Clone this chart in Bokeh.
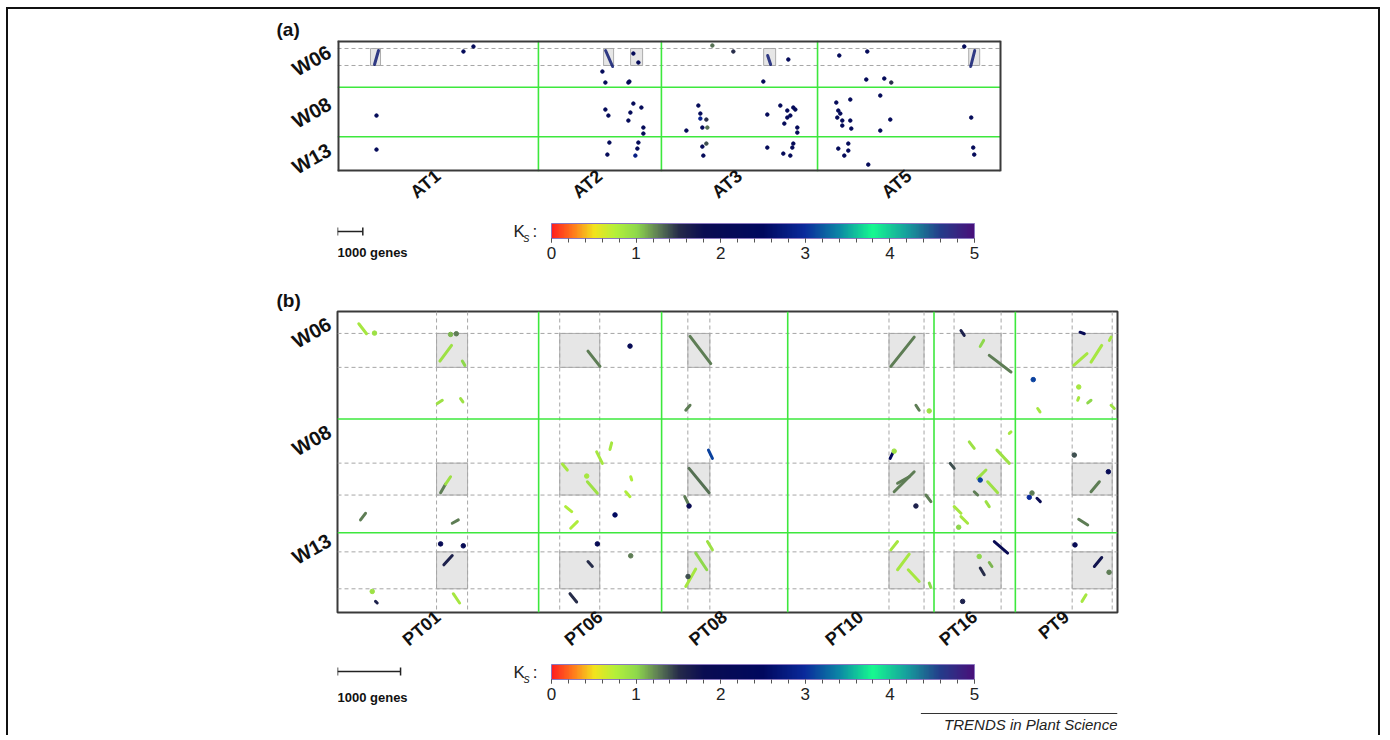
import numpy as np
from bokeh.plotting import figure
from bokeh.models import (Range1d, FixedTicker, ColumnDataSource, LinearColorMapper,
                          ColorBar, Label)
from bokeh.layouts import column
from bokeh.embed import file_html
from bokeh.resources import INLINE

FONT = "Liberation Sans"

# ---------------- data ----------------
W_names = ["W06", "W08", "W13"]
W_len = [1710, 1810, 1270]
AT_names = ["AT1", "AT2", "AT3", "AT5"]
AT_len = [7940, 4860, 6170, 7230]
PT_names = ["PT01", "PT06", "PT08", "PT10", "PT16", "PT9"]
PT_len = [3190, 1950, 2000, 2320, 1290, 1620]
SCALE_GENES = 1000
KS_TICKS = [0, 1, 2, 3, 4, 5]

# y label tick positions (genes)
W_tick_a = [366, 2267, 3948]
W_tick_b = [175, 1889, 3618]

# regions of interest, panel (a)
a_roi_y = [292, 914]
a_roi_x0 = [1304, 10515, 11582, 16840, 24943]
a_roi_x1 = [1700, 10910, 12057, 17314, 25378]
# regions of interest, panel (b)
b_roi_y0 = [349, 2413, 3825]
b_roi_y1 = [889, 2921, 4413]
b_roi_x0 = [1571, 3524, 5556, 8746, 9778, 11651]
b_roi_x1 = [2063, 4159, 5905, 9302, 10524, 12286]

# panel (a) syntenic blocks
a_seg_x0 = [1621, 10594, 16998, 25181]
a_seg_y0 = [366, 366, 548, 366]
a_seg_x1 = [1463, 10871, 17116, 25022]
a_seg_y1 = [877, 951, 877, 951]
a_seg_ks = [2.6, 2.6, 2.6, 2.6]

a_dot_x = [4977, 5372, 10468, 10586, 11495, 1541, 1541, 10586, 10705, 11692,
           11890, 11534, 11692, 11574, 11495, 12008, 12087, 12087, 11890, 11850,
           11771, 10744, 10665, 14813, 15642, 17815, 16827, 14260, 14339, 14339,
           14576, 14418, 14615, 13786, 16985, 17499, 17775, 17775, 17894, 18012,
           18091, 17657, 18170, 18170, 14418, 14576, 14457, 16985, 17617, 17894,
           17973, 18012, 19829, 20935, 24767, 20896, 21607, 21883, 19711, 19790,
           19869, 19750, 19948, 20264, 21449, 20264, 19948, 20303, 21844, 21449,
           25043, 19790, 20185, 20185, 20027, 20975, 25122, 25162]
a_dot_y = [403, 220, 1135, 1537, 1537, 2745, 3989, 2525, 2745, 476,
           805, 1501, 2306, 2635, 2928, 2452, 3184, 3404, 3733, 3953,
           4209, 3733, 4172, 183, 403, 695, 1501, 2379, 2672, 2855,
           2891, 3184, 3184, 3294, 2708, 2379, 2562, 2818, 2745, 2452,
           2525, 3038, 3184, 3367, 3880, 3770, 4209, 3916, 4136, 4209,
           3916, 3770, 549, 403, 220, 1427, 1391, 1537, 2269, 2562,
           2672, 2818, 2928, 2159, 2013, 2928, 3111, 3221, 2891, 3294,
           2818, 3953, 3770, 4026, 4209, 4538, 3916, 4172]
a_dot_ks = [2.2, 2.2, 2.2, 2.2, 2.2, 2.2, 2.2, 2.2, 2.2, 2.2,
            2.2, 2.2, 2.2, 2.2, 2.2, 2.2, 2.2, 2.2, 2.2, 2.2,
            2.8, 2.2, 2.2, 1.3, 1.5, 2.2, 2.2, 2.2, 2.2, 2.9,
            1.5, 2.2, 1.3, 2.2, 2.2, 2.2, 2.2, 2.2, 2.2, 2.2,
            2.2, 2.2, 2.2, 2.2, 2.2, 1.4, 2.2, 2.2, 2.2, 2.2,
            2.2, 2.2, 2.2, 2.2, 2.2, 2.2, 2.2, 1.5, 2.2, 2.2,
            2.2, 2.2, 2.2, 2.2, 2.2, 2.2, 2.2, 2.2, 2.2, 2.2,
            2.2, 2.2, 2.2, 2.2, 2.2, 2.2, 2.2, 2.2]

# panel (b) syntenic blocks
b_seg_x0 = [338, 1624, 1979, 1582, 1952, 1635, 1714, 365, 1820, 1687,
            603, 1836, 3972, 5591, 5523, 4348, 4110, 3566, 3963, 4650,
            4571, 3618, 3698, 5883, 5575, 5507, 3972, 3687, 5867, 5681,
            5523, 8776, 9173, 9887, 10193, 10336, 11776, 11676, 11950, 12241,
            11739, 11898, 12268, 11104, 8765, 8828, 8882, 9332, 8776, 8882,
            9051, 9384, 10019, 10654, 10458, 9717, 10152, 10311, 10098, 10284,
            9781, 9887, 11950, 11093, 11755, 10416, 10193, 10336, 12003, 11807]
b_seg_y0 = [195, 789, 789, 1465, 1385, 2884, 2746, 3317, 3369, 4031,
            4613, 4491, 630, 397, 1571, 2090, 2233, 2428, 2709, 2630,
            2868, 3106, 3449, 2206, 2496, 2947, 3979, 4491, 3661, 3845,
            4375, 873, 1492, 302, 555, 698, 329, 857, 805, 460,
            1412, 1455, 1492, 1544, 2338, 2868, 2734, 2920, 3793, 4110,
            4110, 4321, 2074, 1941, 2206, 2417, 2655, 2709, 2868, 3026,
            3106, 3264, 2868, 2972, 3306, 3661, 4083, 3994, 4058, 4613]
b_seg_x1 = [460, 1809, 2020, 1662, 1989, 1714, 1793, 444, 1916, 1820,
            630, 1936, 4163, 5920, 5591, 4321, 4201, 3645, 4121, 4666,
            4639, 3714, 3804, 5946, 5893, 5559, 4042, 3793, 5946, 5856,
            5681, 9146, 9225, 9939, 10247, 10681, 11844, 11887, 12120, 12268,
            11755, 11950, 12320, 11141, 8803, 9146, 9067, 9411, 8882, 9067,
            9225, 9411, 10098, 10681, 10654, 9781, 10284, 10469, 10152, 10336,
            9887, 9993, 12082, 11146, 11898, 10628, 10257, 10379, 12120, 11871]
b_seg_y1 = [354, 540, 857, 1412, 1439, 2746, 2630, 3211, 3317, 3883,
            4639, 4639, 873, 830, 1492, 2195, 2417, 2523, 2893, 2682,
            2947, 3185, 3344, 2338, 2884, 3052, 4058, 4623, 3793, 4110,
            4099, 408, 1571, 381, 460, 963, 354, 671, 540, 408,
            1370, 1412, 1544, 1598, 2258, 2550, 2630, 3026, 3661, 3861,
            4296, 4391, 2179, 1916, 2417, 2496, 2523, 2884, 2920, 3106,
            3211, 3369, 2709, 3026, 3396, 3845, 4190, 4058, 3915, 4507]
b_seg_ks = [0.85, 0.9, 1.0, 0.9, 0.9, 1.25, 0.9, 1.25, 1.25, 1.6,
            1.6, 0.85, 1.25, 1.25, 1.25, 0.85, 0.85, 0.85, 0.9, 0.8,
            0.8, 0.8, 0.8, 3.1, 1.3, 1.25, 1.5, 1.5, 0.9, 1.0,
            0.85, 1.25, 1.25, 1.6, 1.0, 1.25, 2.0, 0.85, 0.85, 0.85,
            0.85, 1.0, 0.9, 0.85, 2.3, 1.25, 1.25, 1.25, 0.85, 0.85,
            0.85, 1.0, 0.9, 0.85, 0.9, 1.4, 0.9, 0.9, 1.25, 0.9,
            0.85, 0.85, 1.25, 1.8, 1.25, 1.9, 1.5, 1.1, 1.7, 0.85]

b_dot_x = [587, 1793, 1884, 1635, 1995, 551, 4639, 3952, 4401, 5575,
           4121, 4650, 5559, 9384, 11034, 11755, 8828, 9173, 10193, 9851,
           11685, 12225, 10971, 11014, 10177, 9914, 11696, 12236]
b_dot_y = [344, 365, 354, 3698, 3729, 4455, 551, 2619, 3237, 3095,
           3698, 3888, 4217, 1582, 1084, 1201, 2222, 3095, 2682, 3433,
           2285, 2550, 2957, 2888, 3899, 4613, 3714, 4150]
b_dot_ks = [0.9, 1.1, 1.25, 2.0, 2.0, 0.9, 2.0, 0.85, 2.5, 1.8,
            2.0, 1.25, 1.4, 0.9, 3.1, 0.85, 0.9, 1.6, 3.1, 1.0,
            1.4, 2.0, 3.0, 1.25, 1.0, 1.6, 2.0, 1.25]

# ---------------- colour scale ----------------
KS_STOPS = [(0.0, "#ff1f1f"), (0.25, "#ff7a1c"), (0.5, "#f2e41e"), (0.75, "#b4f03a"),
            (1.0, "#8ed84c"), (1.25, "#5f7f55"), (1.5, "#252a4a"), (1.8, "#0a0c52"),
            (2.5, "#00085e"), (3.0, "#0a2a9c"), (3.4, "#0c86a6"), (3.8, "#16fa90"),
            (4.2, "#16a09e"), (4.6, "#243c8a"), (5.0, "#48107a")]


def build_palette(n=256):
    out = []
    for i in range(n):
        v = 5.0 * i / (n - 1)
        j = 0
        while j < len(KS_STOPS) - 2 and v > KS_STOPS[j + 1][0]:
            j += 1
        v0, c0 = KS_STOPS[j]
        v1, c1 = KS_STOPS[j + 1]
        t = min(max((v - v0) / (v1 - v0), 0.0), 1.0)
        a = [int(c0[k:k + 2], 16) for k in (1, 3, 5)]
        b = [int(c1[k:k + 2], 16) for k in (1, 3, 5)]
        out.append("#%02x%02x%02x" % tuple(int(round(a[m] + (b[m] - a[m]) * t)) for m in range(3)))
    return out


mapper = LinearColorMapper(palette=build_palette(), low=0, high=5)

GREEN = "#3de83d"
DASH = "#a6a6a6"
BOXFILL = "#e6e6e6"
BOXLINE = "#adadad"
FRAME = "#3a3a3a"
FULLW = 1370
LEFT = 329          # px left of every frame
FRAME_W = 780       # common frame width (px)
RIGHT = FULLW - LEFT - FRAME_W
A_W = 663           # drawn width of panel (a) box (px)


def style_axes(p):
    p.xgrid.visible = False
    p.ygrid.visible = False
    for ax in p.axis:
        ax.axis_line_color = None
        ax.major_tick_line_color = None
        ax.minor_tick_line_color = None
        ax.major_tick_out = 0
        ax.major_tick_in = 0
        ax.minor_tick_out = 0
        ax.minor_tick_in = 0
        ax.major_label_text_font = FONT
        ax.major_label_text_font_style = "bold"
        ax.major_label_text_color = "#111111"
    p.xaxis.major_label_text_font_size = "18px"
    p.yaxis.major_label_text_font_size = "20px"
    p.xaxis.major_label_standoff = 2
    p.yaxis.major_label_standoff = 8


def dotplot(xnames, xlen, x_end, ticks_y, height, mb_top, mb_bottom, title):
    xedges = np.concatenate([[0], np.cumsum(xlen)]).astype(int)
    wedges = np.concatenate([[0], np.cumsum(W_len)]).astype(int)
    xr = Range1d(0, x_end)
    yr = Range1d(int(wedges[-1]), 0)
    p = figure(width=FULLW, height=height, x_range=xr, y_range=yr,
               output_backend="svg", toolbar_location=None, title=title,
               min_border_left=LEFT, min_border_right=RIGHT,
               min_border_top=mb_top, min_border_bottom=mb_bottom,
               background_fill_color="white", border_fill_color="white")
    p.title.align = "left"
    p.title.offset = -61
    p.title.text_font = FONT
    p.title.text_font_size = "19px"
    p.title.text_font_style = "bold"
    p.title.text_color = "#111111"
    p.title.standoff = 2
    xcent = [int(round((xedges[i] + xedges[i + 1]) / 2)) for i in range(len(xnames))]
    p.xaxis.ticker = FixedTicker(ticks=xcent)
    p.xaxis.major_label_overrides = {c: n for c, n in zip(xcent, xnames)}
    p.xaxis.major_label_orientation = 0.7
    p.yaxis.ticker = FixedTicker(ticks=ticks_y)
    p.yaxis.major_label_overrides = {c: n for c, n in zip(ticks_y, W_names)}
    p.yaxis.major_label_orientation = 0.52
    style_axes(p)
    return p, xedges, wedges, xr


# ---------------- panel (a) ----------------
xa_tot = int(sum(AT_len))
w_tot = int(sum(W_len))
pa, at_edges, w_edges, xr_a = dotplot(AT_names, AT_len, xa_tot * FRAME_W / A_W, W_tick_a,
                                      210, 31, 48, "(a)")
pa.outline_line_color = None
pa.quad(left=a_roi_x0, right=a_roi_x1, top=[a_roi_y[0]] * len(a_roi_x0),
        bottom=[a_roi_y[1]] * len(a_roi_x0), fill_color=BOXFILL, line_color=BOXLINE, line_width=1)
pa.segment(x0=[0] * 2, x1=[xa_tot] * 2, y0=a_roi_y, y1=a_roi_y,
           line_color=DASH, line_width=1, line_dash="4 3")
pa.segment(x0=list(at_edges[1:-1]), x1=list(at_edges[1:-1]), y0=[0] * 3, y1=[w_tot] * 3,
           line_color=GREEN, line_width=1.6)
pa.segment(x0=[0] * 2, x1=[xa_tot] * 2, y0=list(w_edges[1:-1]), y1=list(w_edges[1:-1]),
           line_color=GREEN, line_width=1.6)
# panel (a) frame box (left/top/bottom half-clipped at the frame edge)
pa.segment(x0=[0, 0, 0], x1=[0, xa_tot, xa_tot], y0=[0, 0, w_tot], y1=[w_tot, 0, w_tot],
           line_color=FRAME, line_width=4)
pa.segment(x0=[xa_tot], x1=[xa_tot], y0=[0], y1=[w_tot], line_color=FRAME, line_width=2)
src_as = ColumnDataSource(dict(x0=a_seg_x0, y0=a_seg_y0, x1=a_seg_x1, y1=a_seg_y1, ks=a_seg_ks))
pa.segment("x0", "y0", "x1", "y1", source=src_as, line_color=dict(field="ks", transform=mapper),
           line_width=3, line_cap="round", line_alpha=0.8)
src_ad = ColumnDataSource(dict(x=a_dot_x, y=a_dot_y, ks=a_dot_ks))
pa.scatter("x", "y", source=src_ad, size=3.5, fill_color=dict(field="ks", transform=mapper),
           line_color=dict(field="ks", transform=mapper))


def strip(xr, height):
    s = figure(width=FULLW, height=height, x_range=xr, y_range=Range1d(0, height),
               output_backend="svg", toolbar_location=None, x_axis_type=None, y_axis_type=None,
               min_border_left=LEFT, min_border_right=RIGHT, min_border_top=0, min_border_bottom=0,
               outline_line_color=None, background_fill_color="white", border_fill_color="white")
    s.xgrid.visible = False
    s.ygrid.visible = False
    return s


def add_colorbar(s, y_loc):
    cb = ColorBar(color_mapper=mapper, orientation="horizontal", width=423, height=15,
                  location=(214, y_loc), padding=0, margin=0,
                  ticker=FixedTicker(ticks=KS_TICKS, minor_ticks=[i * 0.2 for i in range(26)]),
                  major_label_text_font=FONT, major_label_text_font_size="17px",
                  major_label_text_color="#222222",
                  major_tick_in=0, major_tick_out=4, minor_tick_in=0, minor_tick_out=4,
                  major_tick_line_color="#555555", minor_tick_line_color="#555555",
                  bar_line_color="#8a78c0", bar_line_width=1, label_standoff=4,
                  background_fill_alpha=0, border_line_color=None)
    s.add_layout(cb)


def add_ks_label(s, xk, xs, xc, yk):
    s.add_layout(Label(x=xk, y=yk, text="K", text_font=FONT, text_font_size="17px",
                       text_baseline="middle", text_color="#222222"))
    s.add_layout(Label(x=xs, y=yk - 6, text="s", text_font=FONT, text_font_size="12px",
                       text_font_style="italic", text_baseline="middle", text_color="#222222"))
    s.add_layout(Label(x=xc, y=yk, text=":", text_font=FONT, text_font_size="17px",
                       text_baseline="middle", text_color="#222222"))


# strip (a)
sa = strip(xr_a, 46)
sa.segment(x0=[0, 0, SCALE_GENES], x1=[SCALE_GENES, 0, SCALE_GENES], y0=[34, 30, 30], y1=[34, 38, 38],
           line_color="#222222", line_width=1.5)
sa.add_layout(Label(x=0, y=13, text="1000 genes", text_font=FONT, text_font_size="13px",
                    text_font_style="bold", text_baseline="middle", text_color="#111111"))
add_colorbar(sa, 4)
add_ks_label(sa, 6957, 7353, 7709, 34)

# ---------------- panel (b) ----------------
xb_tot = int(sum(PT_len))
pb, pt_edges, _, xr_b = dotplot(PT_names, PT_len, xb_tot, W_tick_b, 395, 46, 47, "(b)")
pb.outline_line_color = FRAME
pb.outline_line_width = 2
qx0, qx1, qy0, qy1 = [], [], [], []
for i in range(len(b_roi_x0)):
    for j in range(len(b_roi_y0)):
        qx0.append(b_roi_x0[i]); qx1.append(b_roi_x1[i])
        qy0.append(b_roi_y0[j]); qy1.append(b_roi_y1[j])
pb.quad(left=qx0, right=qx1, top=qy0, bottom=qy1, fill_color=BOXFILL, line_color=BOXLINE, line_width=1)
hy = b_roi_y0 + b_roi_y1
pb.segment(x0=[0] * len(hy), x1=[xb_tot] * len(hy), y0=hy, y1=hy,
           line_color=DASH, line_width=1, line_dash="4 3")
vx = b_roi_x0 + b_roi_x1
pb.segment(x0=vx, x1=vx, y0=[0] * len(vx), y1=[w_tot] * len(vx),
           line_color=DASH, line_width=1, line_dash="4 3")
pb.segment(x0=list(pt_edges[1:-1]), x1=list(pt_edges[1:-1]), y0=[0] * 5, y1=[w_tot] * 5,
           line_color=GREEN, line_width=1.6)
pb.segment(x0=[0] * 2, x1=[xb_tot] * 2, y0=list(w_edges[1:-1]), y1=list(w_edges[1:-1]),
           line_color=GREEN, line_width=1.6)
src_bs = ColumnDataSource(dict(x0=b_seg_x0, y0=b_seg_y0, x1=b_seg_x1, y1=b_seg_y1, ks=b_seg_ks))
pb.segment("x0", "y0", "x1", "y1", source=src_bs, line_color=dict(field="ks", transform=mapper),
           line_width=3, line_cap="round")
src_bd = ColumnDataSource(dict(x=b_dot_x, y=b_dot_y, ks=b_dot_ks))
pb.scatter("x", "y", source=src_bd, size=4.5, fill_color=dict(field="ks", transform=mapper),
           line_color=dict(field="ks", transform=mapper))

# strip (b)
sb = strip(xr_b, 75)
sb.segment(x0=[0, 0, SCALE_GENES], x1=[SCALE_GENES, 0, SCALE_GENES], y0=[64, 60, 60], y1=[64, 68, 68],
           line_color="#222222", line_width=1.5)
sb.add_layout(Label(x=0, y=38, text="1000 genes", text_font=FONT, text_font_size="13px",
                    text_font_style="bold", text_baseline="middle", text_color="#111111"))
add_colorbar(sb, 33)
add_ks_label(sb, 2793, 2952, 3095, 63)
sb.segment(x0=[9252], x1=[xb_tot], y0=[22], y1=[22], line_color="#333333", line_width=1)
sb.add_layout(Label(x=xb_tot, y=11, text="TRENDS in Plant Science", text_font=FONT,
                    text_font_size="15px", text_font_style="italic", text_align="right",
                    text_baseline="middle", text_color="#222222"))

layout = column(pa, sa, pb, sb, spacing=0,
                styles={"margin-left": "6px", "margin-top": "7px",
                        "border-left": "2px solid #111111", "border-top": "2px solid #111111",
                        "border-right": "2px solid #111111"})

with open("out.html", "w") as f:
    f.write(file_html(layout, INLINE))
